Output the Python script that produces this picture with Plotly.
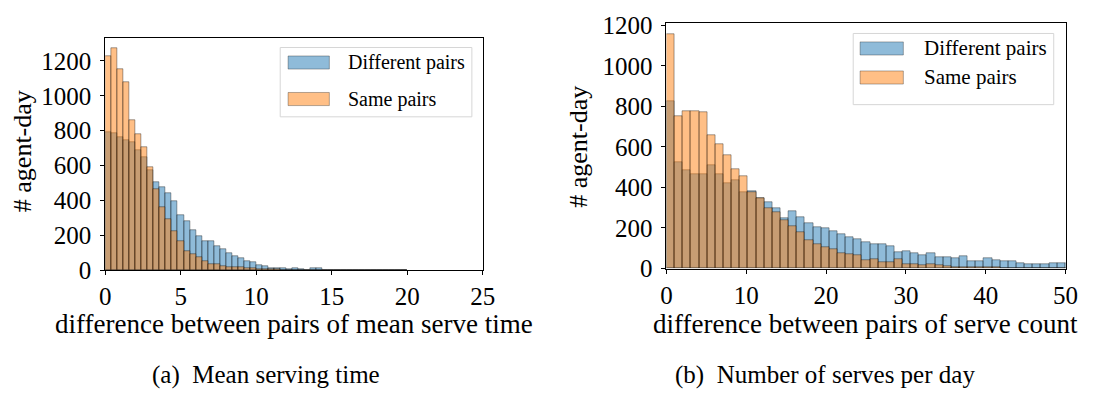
import plotly.graph_objects as go

# ---------------- data ----------------
# (a) mean serve time: 50 bins of width 0.4, starting at 0
a_bin_width = 0.4
a_different = [790, 785, 762, 748, 735, 690, 650, 575, 505, 475,
               443, 395, 314, 282, 230, 195, 168, 165, 141, 123,
               100, 82, 70, 52, 46, 29, 23, 14, 14, 13,
               9, 11, 7, 3, 12, 12, 3, 2, 2, 1,
               1, 2, 4, 4, 1, 1, 1, 1, 2, 1]
a_same = [1225, 1270, 1155, 1080, 860, 780, 705, 590, 465, 360,
          296, 225, 166, 112, 95, 77, 52, 37, 34, 25,
          20, 16, 20, 14, 12, 10, 8, 6, 5, 4,
          3, 3, 2, 2, 3, 2, 1, 1, 1, 0,
          0, 1, 1, 1, 0, 0, 0, 0, 1, 0]
a_xticks = [0, 5, 10, 15, 20, 25]
a_yticks = [0, 200, 400, 600, 800, 1000, 1200]

# (b) serve count: bin width ~1.02, bins start at 0
b_bin_width = 1.02
b_different = [826, 526, 485, 466, 466, 508, 466, 423, 435, 377,
               380, 349, 326, 300, 246, 285, 254, 223, 203, 198,
               185, 169, 157, 146, 130, 120, 118, 111, 80, 88,
               74, 65, 74, 57, 57, 49, 62, 34, 38, 51,
               42, 35, 35, 26, 23, 23, 20, 28, 28, 28]
b_same = [1154, 749, 774, 777, 769, 658, 615, 561, 488, 457,
          378, 345, 300, 280, 238, 211, 177, 138, 118, 105,
          95, 78, 72, 64, 40, 45, 31, 31, 46, 23,
          20, 15, 20, 15, 12, 8, 8, 8, 5, 8,
          5, 4, 4, 3, 3, 3, 2, 3, 3, 3]
b_xticks = [0, 10, 20, 30, 40, 50]
b_yticks = [0, 200, 400, 600, 800, 1000, 1200]

series_names = ["Different pairs", "Same pairs"]
x_titles = ["difference between pairs of mean serve time",
            "difference between pairs of serve count"]
y_title = "# agent-day"
captions = ["(a)  Mean serving time", "(b)  Number of serves per day"]

# ---------------- style ----------------
W, H = 1108, 394
FONT = "Liberation Serif"
BLUE = "rgba(31,119,180,0.5)"
ORANGE = "rgba(255,127,14,0.5)"
EDGE = "rgba(0,0,0,0.45)"


def px(x):
    return x / W


def py(y):
    return 1 - y / H


def centers(n, w):
    return [w * (i + 0.5) for i in range(n)]


fig = go.Figure()

for vals, col, name in [(a_different, BLUE, series_names[0]), (a_same, ORANGE, series_names[1])]:
    fig.add_trace(go.Bar(x=centers(len(vals), a_bin_width), y=vals, width=a_bin_width,
                         marker=dict(color=col, line=dict(color=EDGE, width=0.8)),
                         name=name, xaxis="x", yaxis="y", showlegend=False))
for vals, col, name in [(b_different, BLUE, series_names[0]), (b_same, ORANGE, series_names[1])]:
    fig.add_trace(go.Bar(x=centers(len(vals), b_bin_width), y=vals, width=b_bin_width,
                         marker=dict(color=col, line=dict(color=EDGE, width=0.8)),
                         name=name, xaxis="x2", yaxis="y2", showlegend=False))

axis_common = dict(showline=True, mirror=True, linecolor="black", linewidth=1,
                   ticks="outside", ticklen=4, tickcolor="black", tickwidth=1,
                   showgrid=False, zeroline=False,
                   tickfont=dict(family=FONT, size=25, color="black"))

fig.update_layout(
    width=W, height=H, margin=dict(l=0, r=0, t=0, b=0),
    paper_bgcolor="white", plot_bgcolor="white",
    font=dict(family=FONT, color="black"),
    barmode="overlay", bargap=0, showlegend=False,
    xaxis=dict(domain=[px(101), px(485)], range=[0, 25], tickvals=a_xticks,
               anchor="y", **axis_common),
    yaxis=dict(domain=[py(277), py(29)], range=[0, 1330], tickvals=a_yticks,
               anchor="x", ticklabelstandoff=4, **axis_common),
    xaxis2=dict(domain=[px(672), px(1078)], range=[0, 50], tickvals=b_xticks,
                anchor="y2", **axis_common),
    yaxis2=dict(domain=[py(275), py(13)], range=[0, 1210], tickvals=b_yticks,
                anchor="x2", ticklabelstandoff=4, **axis_common),
)

annotations = []
shapes = []

# axis titles and captions
for cx, title in [(293, x_titles[0]), (875, x_titles[1])]:
    annotations.append(dict(x=px(cx), y=py(334), xref="paper", yref="paper",
                            text=title, showarrow=False, xanchor="center", yanchor="middle",
                            font=dict(family=FONT, size=27, color="black")))
for cx, cap in [(265, captions[0]), (833, captions[1])]:
    annotations.append(dict(x=px(cx), y=py(389), xref="paper", yref="paper",
                            text=cap, showarrow=False, xanchor="center", yanchor="middle",
                            font=dict(family=FONT, size=25, color="black")))
for cx, cy in [(17, 150), (583, 145)]:
    annotations.append(dict(x=px(cx), y=py(cy), xref="paper", yref="paper",
                            text=y_title, showarrow=False, textangle=-90,
                            xanchor="center", yanchor="middle",
                            font=dict(family=FONT, size=26, color="black")))

# legends (drawn like matplotlib's)
legends = [
    dict(box=(279, 39, 474, 113), sw_x=(287, 329), rows=[(48, 62), (87, 101)], tx=346, fs=20),
    dict(box=(862, 24, 1066, 100), sw_x=(869, 913), rows=[(33, 47), (64, 78)], tx=932, fs=21),
]
for lg in legends:
    x0, y0, x1, y1 = lg["box"]
    shapes.append(dict(type="rect", xref="paper", yref="paper",
                       x0=px(x0), x1=px(x1), y0=py(y1), y1=py(y0),
                       line=dict(color="#d6d6d6", width=1), fillcolor="rgba(255,255,255,0.8)"))
    for (ry0, ry1), col, name in zip(lg["rows"], [BLUE, ORANGE], series_names):
        shapes.append(dict(type="rect", xref="paper", yref="paper",
                           x0=px(lg["sw_x"][0]), x1=px(lg["sw_x"][1]),
                           y0=py(ry1), y1=py(ry0),
                           line=dict(color="rgba(0,0,0,0.3)", width=1), fillcolor=col))
        annotations.append(dict(x=px(lg["tx"]), y=py((ry0 + ry1) / 2), xref="paper", yref="paper",
                                text=name, showarrow=False, xanchor="left", yanchor="middle",
                                font=dict(family=FONT, size=lg["fs"], color="black")))

fig.update_layout(annotations=annotations, shapes=shapes)
fig.write_html("out.html")
